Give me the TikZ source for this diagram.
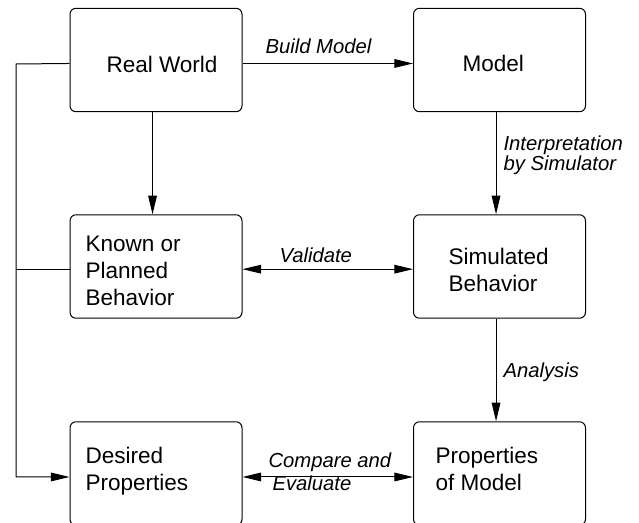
\documentclass[tikz,border=0pt]{standalone}
\usepackage{fontspec}
\setmainfont{Liberation Sans}
\usetikzlibrary{arrows.meta}
\tikzset{
  box/.style={draw, rounded corners=4.5pt, minimum width=129pt, minimum height=77.6pt, inner sep=0pt},
  boxtext/.style={anchor=base west, align=left, inner sep=0pt, font=\fontsize{16.9}{20.25}\selectfont},
  lbl/.style={anchor=base west, align=left, inner sep=0pt, font=\fontsize{15.2}{15}\selectfont\itshape},
  arr/.style={-{Triangle[length=14pt,width=6.5pt]}},
  dblarr/.style={{Triangle[length=14pt,width=6.5pt]}-{Triangle[length=14pt,width=6.5pt]}},
}
\begin{document}
\begin{tikzpicture}[x=0.75pt,y=-0.75pt,line width=0.75pt]
    \clip (0,0) rectangle (639,522);
    % boxes
    \node[box] (rw) at (156,60) {};
    \node[box] (model) at (499.5,60) {};
    \node[box] (kb) at (156,266.5) {};
    \node[box] (sb) at (499.5,266.5) {};
    \node[box] (dp) at (156,473.5) {};
    \node[box] (pm) at (499.5,473.5) {};
    % box texts (base = last line)
    \node[boxtext] (rwtext) at (106,72) {Real World};
    \node[boxtext] (modeltext) at (462,71) {Model};
    \node[boxtext] (kbtext) at (85,305) {Known or\\Planned\\Behavior};
    \node[boxtext] (sbtext) at (448,291) {Simulated\\Behavior};
    \node[boxtext] (dptext) at (85,490) {Desired\\Properties};
    \node[boxtext] (pmtext) at (435,490) {Properties\\of Model};
    % connectors
    \coordinate (bus) at (16,64);
    \draw[arr] ([yshift=-2.6pt]rw.east) -- ([yshift=-2.6pt]model.west);
    \draw[arr] ([xshift=-2.6pt]rw.south) -- ([xshift=-2.6pt]kb.north);
    \draw[arr] ([xshift=-2.6pt]model.south) -- ([xshift=-2.6pt]sb.north);
    \draw[dblarr] ([yshift=-2pt]kb.east) -- ([yshift=-2pt]sb.west);
    \draw[arr] ([xshift=-2.6pt]sb.south) -- ([xshift=-2.6pt]pm.north);
    \draw[dblarr] ([yshift=-2.6pt]dp.east) -- ([yshift=-2.6pt]pm.west);
    \draw[arr] ([yshift=-2.6pt]rw.west) -- (bus) |- ([yshift=-2.6pt]dp.west);
    \draw ([yshift=-2pt]kb.west) -- ([yshift=-2pt]kb.west -| bus);
    % connector labels
    \node[lbl] (buildlbl) at (265,53) {Build Model};
    \node[lbl] (interplbl) at (503,170) {Interpretation\\by Simulator};
    \node[lbl] (validlbl) at (279,262) {Validate};
    \node[lbl] (analysislbl) at (503,377) {Analysis};
    \node[lbl] (comparelbl) at (268,467) {Compare and};
    \node[lbl] (evallbl) at (272,490) {Evaluate};
\end{tikzpicture}
\end{document}
